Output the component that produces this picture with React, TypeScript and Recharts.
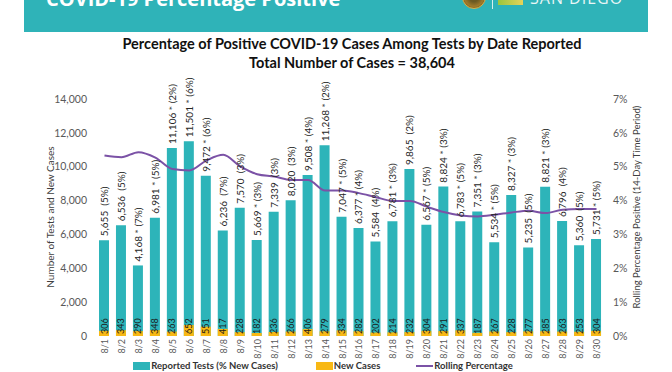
import React from 'react';
import { ComposedChart, Bar, Line, XAxis, YAxis, LabelList } from 'recharts';

const dates = ['8/1','8/2','8/3','8/4','8/5','8/6','8/7','8/8','8/9','8/10','8/11','8/12','8/13','8/14','8/15','8/16','8/17','8/18','8/19','8/20','8/21','8/22','8/23','8/24','8/25','8/26','8/27','8/28','8/29','8/30'];
const reportedTests = [5655,6536,4168,6981,11106,11501,9472,6236,7570,5669,7339,8020,9508,11268,7047,6377,5584,6781,9865,6567,8824,6783,7351,5534,8327,5235,8821,6796,5360,5731];
const newCases = [306,343,290,348,263,652,551,417,228,182,236,266,406,279,334,282,202,214,232,304,291,337,187,267,228,277,285,263,253,304];
const pctLabels = [5,5,7,5,2,6,6,7,3,3,3,3,4,2,5,4,4,3,2,5,3,5,3,5,3,5,3,4,5,5];
const starred = [false,false,true,true,true,true,true,false,false,true,false,false,true,true,true,true,false,true,false,true,true,true,true,true,true,false,true,false,false,true];
const rollingPct = [5.33,5.28,5.43,5.27,4.93,4.89,5.18,5.35,5.01,4.78,4.71,4.61,4.61,4.30,4.30,4.22,4.10,3.99,3.99,3.82,3.66,3.56,3.53,3.58,3.65,3.70,3.63,3.73,3.75,3.75];
const leftTicks = [0,2000,4000,6000,8000,10000,12000,14000];
const rightTicks = [0,1,2,3,4,5,6,7];

const TEAL = '#2db4b9';
const GOLD = '#f8b814';
const PURPLE = '#7b52a6';
const FONT = 'Lato, "DejaVu Sans", sans-serif';

const data = dates.map((d, i) => ({
  date: d,
  tests: reportedTests[i],
  cases: newCases[i],
  rolling: rollingPct[i],
  label: `${reportedTests[i].toLocaleString('en-US')}${starred[i] ? ' * ' : '\u00a0\u00a0'}(${pctLabels[i]}%)`,
}));

const TestsLabel = (props: any) => {
  const { x, y, width, index } = props;
  const cx = x + width / 2;
  const ty = y - 4;
  return (
    <text x={cx} y={ty} transform={`rotate(-90, ${cx}, ${ty})`} textAnchor="start" dominantBaseline="central" fontSize={10} fill="#262626">
      {data[index].label}
    </text>
  );
};

const CasesLabel = (props: any) => {
  const { x, width, value } = props;
  const cx = x + width / 2;
  const ty = 334;
  return (
    <text x={cx} y={ty} transform={`rotate(-90, ${cx}, ${ty})`} textAnchor="start" dominantBaseline="central" fontSize={9} fill="#1a1a1a">
      {value}
    </text>
  );
};

const DateTick = (props: any) => {
  const { x, y, payload } = props;
  return (
    <text x={x} y={y} transform={`rotate(-90, ${x}, ${y})`} textAnchor="end" dominantBaseline="central" fontSize={9} fill="#595959">
      {payload.value}
    </text>
  );
};

export default function App() {
  return (
    <div style={{ position: 'fixed', left: 0, top: 0, width: 672, height: 372, background: '#fff', fontFamily: FONT, overflow: 'hidden' }}>
      <div style={{ position: 'absolute', left: 24, top: 0, width: 624, height: 32, background: '#2fb3b8', overflow: 'hidden' }}>
        <div style={{ position: 'absolute', left: 22, top: -13, color: '#fff', fontWeight: 700, fontSize: 20, fontFamily: '"Open Sans", sans-serif', whiteSpace: 'nowrap', lineHeight: '24px' }}>COVID-19 Percentage Positive</div>
        <div style={{ position: 'absolute', left: 438, top: -15, width: 22, height: 22, borderRadius: '50%', background: 'radial-gradient(circle, #6b5a22 30%, #a07a2a 60%, #4a3b16 100%)', border: '1px solid #d9b24a' }} />
        <div style={{ position: 'absolute', left: 468, top: 0, width: 1, height: 9, background: '#d8eeee' }} />
        <div style={{ position: 'absolute', left: 474, top: 0, width: 25, height: 5, background: 'linear-gradient(90deg, #9bc53d, #e6d35a)' }} />
        <div style={{ position: 'absolute', left: 506, top: -12, color: '#e9f6f6', fontSize: 16, letterSpacing: 1, whiteSpace: 'nowrap', lineHeight: '20px', fontFamily: '"Open Sans", sans-serif' }}>SAN DIEGO</div>
      </div>

      <div style={{ position: 'absolute', left: 0, width: 704, top: 34, textAlign: 'center', fontWeight: 700, fontSize: 14.5, color: '#111', lineHeight: '19px' }}>
        <div>Percentage of Positive COVID-19 Cases Among Tests by Date Reported</div>
        <div>Total Number of Cases = 38,604</div>
      </div>

      <ComposedChart width={672} height={372} data={data} margin={{ top: 99, right: 17, bottom: 16, left: 36 }} barGap={0}>
        <XAxis xAxisId="a" dataKey="date" axisLine={false} tickLine={false} tickSize={0} tickMargin={3} height={20} interval={0} tick={<DateTick />} />
        <XAxis xAxisId="b" dataKey="date" hide />
        <YAxis yAxisId="left" domain={[0, 14000]} ticks={leftTicks} width={60} axisLine={false} tickLine={false} tickSize={0} tickMargin={9}
          tickFormatter={(v: number) => v.toLocaleString('en-US')} tick={{ fontSize: 10.5, fill: '#595959' }} />
        <YAxis yAxisId="right" orientation="right" domain={[0, 7]} ticks={rightTicks} width={50} axisLine={false} tickLine={false} tickSize={0} tickMargin={8}
          tickFormatter={(v: number) => `${v}%`} tick={{ fontSize: 10.5, fill: '#595959' }} />
        <Bar xAxisId="a" yAxisId="left" dataKey="tests" fill={TEAL} barSize={10} isAnimationActive={false}>
          <LabelList dataKey="tests" content={<TestsLabel />} />
        </Bar>
        <Bar xAxisId="b" yAxisId="left" dataKey="cases" fill={GOLD} barSize={10} isAnimationActive={false}>
          <LabelList dataKey="cases" content={<CasesLabel />} />
        </Bar>
        <Line xAxisId="a" yAxisId="right" dataKey="rolling" type="monotone" stroke={PURPLE} strokeWidth={2} dot={false} isAnimationActive={false} />
      </ComposedChart>

      <div style={{ position: 'absolute', left: 50, top: 217, transform: 'translate(-50%, -50%) rotate(-90deg)', fontSize: 10, color: '#404040', whiteSpace: 'nowrap' }}>Number of Tests and New Cases</div>
      <div style={{ position: 'absolute', left: 636, top: 207, transform: 'translate(-50%, -50%) rotate(-90deg)', fontSize: 9.5, color: '#404040', whiteSpace: 'nowrap' }}>Rolling Percentage Positive (14-Day Time Period)</div>

      <div style={{ position: 'absolute', left: 0, width: 646, top: 360, display: 'flex', justifyContent: 'center', alignItems: 'center', fontSize: 9.5, fontWeight: 700, color: '#333', whiteSpace: 'nowrap' }}>
        <span style={{ display: 'inline-block', width: 17, height: 8, background: TEAL }} />
        <span style={{ marginLeft: 1 }}>Reported Tests (% New Cases)</span>
        <span style={{ display: 'inline-block', width: 17, height: 8, background: GOLD, marginLeft: 38 }} />
        <span style={{ marginLeft: 1 }}>New Cases</span>
        <span style={{ display: 'inline-block', width: 17, height: 2, background: PURPLE, marginLeft: 36 }} />
        <span style={{ marginLeft: 1 }}>Rolling Percentage</span>
      </div>
    </div>
  );
}
